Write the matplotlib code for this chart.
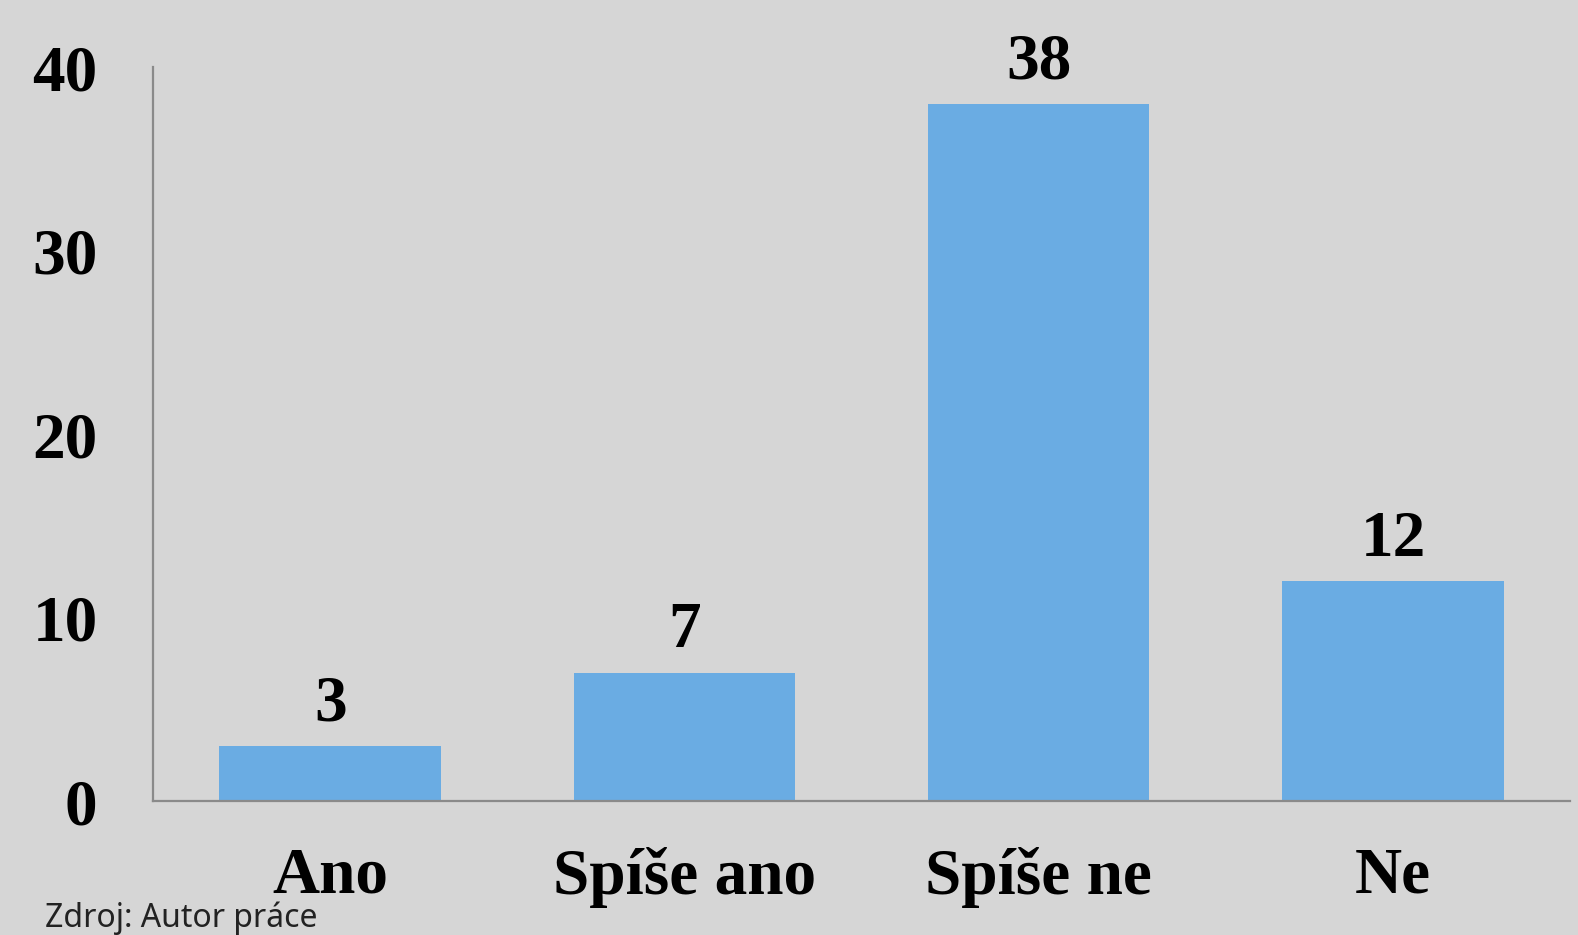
import matplotlib.pyplot as plt

categories = ['Ano', 'Spíše ano', 'Spíše ne', 'Ne']
values = [3, 7, 38, 12]
y_ticks = [0, 10, 20, 30, 40]

bar_color = '#6aace3'
bg_color = '#d6d6d6'
serif = ['Liberation Serif', 'DejaVu Serif']

fig = plt.figure(figsize=(15.78, 9.35), dpi=100, facecolor=bg_color)
ax = fig.add_axes([0.0970, 0.1433, 0.8980, 0.7850])
ax.set_facecolor(bg_color)

x = range(len(categories))
bars = ax.bar(x, values, width=0.625, color=bar_color, zorder=2)

for b, v in zip(bars, values):
    ax.annotate(str(v), (b.get_x() + b.get_width() / 2, b.get_height()),
                xytext=(0, 8), textcoords='offset points',
                ha='center', va='bottom', fontsize=47, fontweight='bold',
                family=serif)

ax.set_xlim(-0.5, 3.5)
ax.set_ylim(0, 40)
ax.set_xticks(list(x))
ax.set_xticklabels(categories, fontsize=47, fontweight='bold', family=serif)
ax.set_yticks(y_ticks)
ax.set_yticklabels([str(t) for t in y_ticks], fontsize=47, fontweight='bold', family=serif)
ax.tick_params(axis='both', length=0)
ax.tick_params(axis='y', pad=40)
ax.tick_params(axis='x', pad=33)

for s in ['top', 'right']:
    ax.spines[s].set_visible(False)
for s in ['left', 'bottom']:
    ax.spines[s].set_color('#8a8a8a')
    ax.spines[s].set_linewidth(1.6)

# source note sits right at the bottom edge
fig.text(0.0285, 0.0005, 'Zdroj: Autor práce', fontsize=23, family='Noto Sans',
         color='#222222', ha='left', va='bottom')

fig.savefig('out.png', dpi=100, facecolor=bg_color)
